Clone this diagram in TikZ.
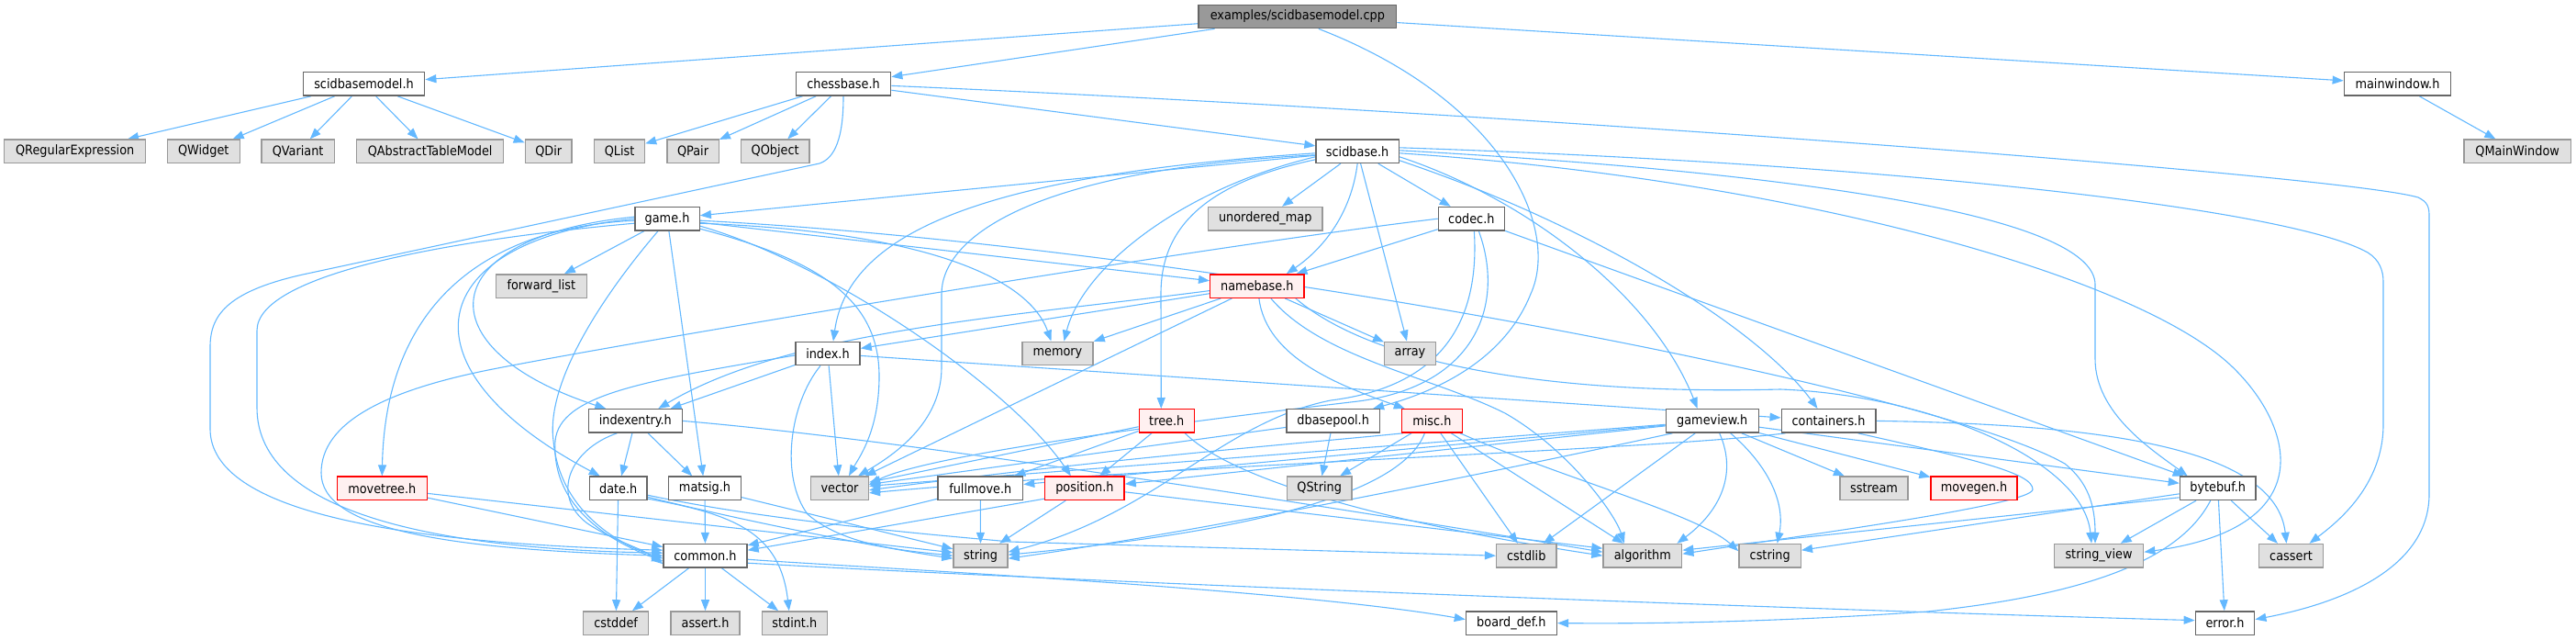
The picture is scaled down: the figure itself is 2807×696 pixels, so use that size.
\documentclass[tikz,border=0pt]{standalone}
\usepackage{fontspec}
\setmainfont{DejaVu Sans Condensed}
\usetikzlibrary{arrows.meta,calc,backgrounds}
\definecolor{edgec}{HTML}{63B8FF}
\definecolor{wb}{HTML}{666666}
\definecolor{gb}{HTML}{999999}
\definecolor{gf}{HTML}{E0E0E0}
\definecolor{rf}{HTML}{FFF0F0}
\definecolor{rb}{HTML}{FF0000}
\definecolor{rootf}{HTML}{999999}
\definecolor{rootb}{HTML}{666666}
\newcommand{\dnode}[6]{\node[#5, minimum width={#3-#2}] (#1) at ({(#2+#3)/2},#4) {#6};}
\begin{document}
\begin{tikzpicture}[x=1pt,y=-1pt,
 box/.style={rectangle, line width=1.4pt, minimum height=25.4pt, inner sep=0pt, font=\fontsize{14.3}{16}\selectfont, text=black},
 wbox/.style={box, draw=wb, fill=white},
 gbox/.style={box, draw=gb, fill=gf},
 rbox/.style={box, draw=rb, fill=rf},
 rootbox/.style={box, draw=rootb, fill=rootf},
 ed/.style={draw=edgec, line width=1.1pt, -{Triangle[length=12pt,width=9pt]}},
]
\useasboundingbox (0,0) rectangle (2807,696);
% row 0-1
\dnode{ex}{1306}{1521.7}{18}{rootbox}{examples/scidbasemodel.cpp}
\dnode{sbm}{330.3}{462.7}{91.4}{wbox}{scidbasemodel.h}
\dnode{cb}{867.3}{970.7}{91.4}{wbox}{chessbase.h}
\dnode{mw}{2554.3}{2670.7}{91.4}{wbox}{mainwindow.h}
% row 2
\dnode{qre}{4.7}{158.7}{164.8}{gbox}{QRegularExpression}
\dnode{qw}{182.3}{261.3}{164.8}{gbox}{QWidget}
\dnode{qv}{285}{364.3}{164.8}{gbox}{QVariant}
\dnode{qat}{388.6}{548.7}{164.8}{gbox}{QAbstractTableModel}
\dnode{qd}{572.4}{623}{164.8}{gbox}{QDir}
\dnode{ql}{647.6}{702.5}{164.8}{gbox}{QList}
\dnode{qp}{727}{783.2}{164.8}{gbox}{QPair}
\dnode{qo}{807.3}{882}{164.8}{gbox}{QObject}
\dnode{sb}{1434}{1524.3}{164.8}{wbox}{scidbase.h}
\dnode{qmw}{2685}{2801.3}{164.8}{gbox}{QMainWindow}
% row 3
\dnode{game}{691.9}{762.2}{238.2}{wbox}{game.h}
\dnode{um}{1316.7}{1440.8}{238.2}{gbox}{unordered\_map}
\dnode{codec}{1567.4}{1639.3}{238.2}{wbox}{codec.h}
% row 4
\dnode{fl}{540.4}{639.3}{311.6}{gbox}{forward\_list}
\dnode{nb}{1318.7}{1421.1}{311.6}{rbox}{namebase.h}
% row 5
\dnode{idx}{866.8}{937.1}{385}{wbox}{index.h}
\dnode{mem}{1113.8}{1191.1}{385}{gbox}{memory}
\dnode{arr}{1508.7}{1564.2}{385}{gbox}{array}
% row 6
\dnode{ie}{641.4}{743.2}{458.4}{wbox}{indexentry.h}
\dnode{tree}{1241.2}{1301.3}{458.4}{rbox}{tree.h}
\dnode{dbp}{1402}{1503.4}{458.4}{wbox}{dbasepool.h}
\dnode{misc}{1527.5}{1593.3}{458.4}{rbox}{misc.h}
\dnode{gv}{1815.2}{1916.2}{458.4}{wbox}{gameview.h}
\dnode{cont}{1941.2}{2043.8}{458.4}{wbox}{containers.h}
% row 7
\dnode{mt}{367.3}{465.3}{531.8}{rbox}{movetree.h}
\dnode{date}{642.5}{705}{531.8}{wbox}{date.h}
\dnode{ms}{728.6}{807.5}{531.8}{wbox}{matsig.h}
\dnode{vec}{883.6}{946.4}{531.8}{gbox}{vector}
\dnode{fm}{1022}{1114.6}{531.8}{wbox}{fullmove.h}
\dnode{pos}{1138.7}{1225.1}{531.8}{rbox}{position.h}
\dnode{qs}{1402.3}{1473.1}{531.8}{gbox}{QString}
\dnode{ss}{2005}{2079}{531.8}{gbox}{sstream}
\dnode{mg}{2104}{2198}{531.8}{rbox}{movegen.h}
\dnode{bb}{2375.4}{2458}{531.8}{wbox}{bytebuf.h}
% row 8
\dnode{com}{723}{814}{605.2}{wbox}{common.h}
\dnode{str}{1039}{1098}{605.2}{gbox}{string}
\dnode{cstdlib}{1630.6}{1696}{605.2}{gbox}{cstdlib}
\dnode{alg}{1747}{1832.7}{605.2}{gbox}{algorithm}
\dnode{cstr}{1895}{1962.3}{605.2}{gbox}{cstring}
\dnode{sv}{2238.3}{2335.7}{605.2}{gbox}{string\_view}
\dnode{cas}{2461.7}{2531.3}{605.2}{gbox}{cassert}
% row 9
\dnode{cstddef}{635.7}{706.7}{678.6}{gbox}{cstddef}
\dnode{ah}{731}{806}{678.6}{gbox}{assert.h}
\dnode{si}{830.3}{901.3}{678.6}{gbox}{stdint.h}
\dnode{bd}{1597.4}{1696.4}{678.6}{wbox}{board\_def.h}
\dnode{err}{2392.3}{2456.7}{678.6}{wbox}{error.h}

\begin{scope}[on background layer]
% straight edges
\draw[ed] (ex) -- (sbm);
\draw[ed] (ex) -- (cb);
\draw[ed] (ex) -- (mw);
\foreach \t in {qre,qw,qv,qat,qd} \draw[ed] (sbm) -- (\t);
\foreach \t in {ql,qp,qo,sb} \draw[ed] (cb) -- (\t);
\draw[ed] (mw) -- (qmw);
\foreach \t in {um,codec,arr,game} \draw[ed] (sb) -- (\t);
\draw[ed] (game) -- (fl);
\draw[ed] (game) -- (nb);
\draw[ed] (game) -- (ms);
\draw[ed] (codec) -- (nb);
\draw[ed] (codec) -- (bb);
\foreach \t in {idx,mem,arr,vec} \draw[ed] (nb) -- (\t);
\foreach \t in {ie,vec,cont} \draw[ed] (idx) -- (\t);
\draw[ed] (ie) -- (date);
\draw[ed] (ie) -- (ms);
\foreach \t in {vec,fm,pos} \draw[ed] (tree) -- (\t);
\draw[ed] (dbp) -- (qs);
\draw[ed] (dbp) -- (vec);
\foreach \t in {qs,cstdlib,alg} \draw[ed] (misc) -- (\t);
\foreach \t in {ss,mg,bb,cstdlib,vec,fm,pos} \draw[ed] (gv) -- (\t);
\draw[ed] (ms) -- (com);
\draw[ed] (ms) -- (str);
\draw[ed] (date) -- (cstddef);
\draw[ed] (fm) -- (str);
\draw[ed] (fm) -- (com);
\draw[ed] (pos) -- (str);
\draw[ed] ($(pos.south west)+(0,-2)$) -- ($(com.east)+(0,-6)$);
\draw[ed] ($(pos.east)+(0,4)$) -- ($(alg.west)+(0,-8)$);
\foreach \t in {cstddef,ah,si} \draw[ed] (com) -- (\t);
\foreach \t in {sv,cas,err} \draw[ed] (bb) -- (\t);
\draw[ed] ($(bb.west)+(0,6)$) -- ($(cstr.east)+(0,-6)$);
\draw[ed] ($(bb.west)+(0,10)$) -- ($(alg.east)+(0,-6)$);
\draw[ed] (mt) -- (com);
\draw[ed] (mt) -- (str);
% curved edges
\draw[ed] ($(ex.south)+(23,0)$) .. controls (1640,110) and (1700,250) .. (1668,320) .. controls (1640,390) and (1570,425) .. ($(dbp.north east)+(-8,0)$);
\draw[ed] (cb.south) .. controls (919,150) and (910,172) .. (893,178) -- (330,299) .. controls (245,318) and (229,345) .. (229,378) -- (229,467) .. controls (229,545) and (380,590) .. ($(com.west)+(0,-6)$);
\draw[ed] ($(cb.east)+(0,2)$) .. controls (1600,120) and (2550,190) .. (2635,215) .. controls (2645,220) and (2647,225) .. (2647,235) -- (2647,538) .. controls (2647,615) and (2560,655) .. ($(err.east)+(0,-4)$);
\draw[ed] (sb.south) .. controls (1472,235) and (1440,272) .. ($(nb.north east)+(-20,0)$);
\draw[ed] ($(sb.west)+(0,2)$) .. controls (1080,190) and (925,250) .. ($(idx.north)+(6,0)$);
\draw[ed] ($(sb.west)+(0,6)$) .. controls (1290,205) and (1180,290) .. ($(mem.north)+(7,0)$);
\draw[ed] ($(sb.west)+(0,4)$) .. controls (1120,185) and (1026,260) .. (1026,320) -- (1026,400) .. controls (1026,460) and (975,495) .. ($(vec.north)+(20,0)$);
\draw[ed] ($(sb.west)+(0,9)$) .. controls (1310,200) and (1265,250) .. (1265,320) -- ($(tree.north)+(-6,0)$);
\draw[ed] ($(sb.east)+(0,6)$) .. controls (1660,215) and (1800,320) .. ($(gv.north)+(-16,0)$);
\draw[ed] ($(sb.east)+(0,10)$) .. controls (1720,240) and (1910,350) .. ($(cont.north)+(-12,0)$);
\draw[ed] ($(sb.east)+(0,-4)$) .. controls (2100,180) and (2500,230) .. (2580,275) .. controls (2593,283) and (2597,295) .. (2597,307) -- (2597,462) .. controls (2597,530) and (2545,570) .. ($(cas.north)+(20,0)$);
\draw[ed] ($(sb.east)+(0,-1)$) .. controls (2000,190) and (2283,240) .. (2283,310) -- (2283,391) .. controls (2283,450) and (2345,490) .. ($(bb.north)+(-33,0)$);
\draw[ed] ($(sb.east)+(0,2)$) .. controls (1950,195) and (2330,300) .. (2433,400) .. controls (2500,465) and (2530,575) .. ($(sv.east)+(0,-4)$);
% game.h
\draw[ed] ($(game.east)+(0,5)$) .. controls (1000,252) and (1120,300) .. ($(mem.north)+(-7,0)$);
\draw[ed] ($(game.east)+(0,8)$) .. controls (900,285) and (1100,420) .. ($(pos.north)+(-15,0)$);
\draw[ed] ($(game.east)+(0,11)$) .. controls (900,285) and (958,330) .. (958,410) .. controls (958,470) and (935,500) .. ($(vec.north)+(10,0)$);
\draw[ed] ($(game.east)+(0,2)$) .. controls (1300,268) and (2100,420) .. (2250,505) .. controls (2275,525) and (2283,550) .. ($(sv.north)+(-4,0)$);
\draw[ed] ($(game.west)+(0,5)$) .. controls (480,262) and (280,300) .. (280,360) -- (280,444) .. controls (280,560) and (480,598) .. ($(com.west)+(0,-3)$);
\draw[ed] ($(game.west)+(0,2)$) .. controls (530,248) and (420,330) .. (mt.north);
\draw[ed] ($(game.west)+(0,-2)$) .. controls (470,258) and (460,380) .. ($(ie.north)+(-32,0)$);
\draw[ed] (game.west) .. controls (460,262) and (430,400) .. ($(date.north)+(-20,0)$);
\draw[ed] ($(game.south)+(-10,0)$) .. controls (650,330) and (595,420) .. (603,480) .. controls (610,560) and (680,595) .. ($(com.west)+(0,3)$);
% codec.h
\draw[ed] (codec.west) .. controls (1300,270) and (700,370) .. (537,402) .. controls (420,425) and (350,460) .. (350,515) .. controls (350,575) and (480,598) .. (com.west);
\draw[ed] ($(codec.south)+(3,0)$) .. controls (1612,340) and (1580,420) .. (1450,436) .. controls (1330,460) and (1260,560) .. ($(str.east)+(0,-4)$);
\draw[ed] ($(codec.south)+(8,0)$) .. controls (1640,330) and (1610,420) .. (1480,437) .. controls (1200,470) and (1000,500) .. ($(vec.east)+(0,-4)$);
% namebase.h
\draw[ed] ($(nb.west)+(0,5)$) .. controls (1100,345) and (860,360) .. ($(ie.north)+(25,0)$);
\draw[ed] ($(nb.south)+(2,0)$) .. controls (1380,390) and (1460,420) .. ($(misc.north west)+(4,0)$);
\draw[ed] ($(nb.south)+(15,0)$) .. controls (1440,390) and (1560,410) .. (1640,450) .. controls (1710,490) and (1760,560) .. ($(alg.north)+(-20,0)$);
\draw[ed] ($(nb.south east)+(-10,0)$) .. controls (1500,400) and (1700,430) .. (1940,424) .. controls (2100,430) and (2270,500) .. ($(sv.north)+(-8,0)$);
% index.h
\draw[ed] ($(idx.west)+(0,2)$) .. controls (700,415) and (610,430) .. (605,480) .. controls (600,560) and (680,595) .. ($(com.west)+(0,6)$);
\draw[ed] ($(idx.south)+(-8,0)$) .. controls (860,440) and (850,520) .. (880,560) .. controls (920,595) and (990,600) .. (str.west);
% indexentry.h
\draw[ed] ($(ie.south)+(-20,0)$) .. controls (620,490) and (600,540) .. (640,570) .. controls (670,590) and (700,597) .. ($(com.west)+(0,9)$);
\draw[ed] (ie.east) .. controls (1000,480) and (1500,560) .. ($(alg.west)+(0,-4)$);
% tree.h
\draw[ed] ($(tree.south)+(20,0)$) .. controls (1330,510) and (1450,560) .. ($(alg.west)+(0,0)$);
% misc.h
\draw[ed] ($(misc.south west)+(2,0)$) .. controls (1450,480) and (1200,500) .. ($(vec.east)+(0,2)$);
\draw[ed] ($(misc.south)+(-8,0)$) .. controls (1530,530) and (1400,575) .. ($(str.east)+(0,-1)$);
\draw[ed] ($(misc.south east)+(-3,0)$) .. controls (1700,520) and (1850,560) .. ($(cstr.west)+(0,-5)$);
% gameview.h
\draw[ed] ($(gv.south)+(20,0)$) .. controls (1930,510) and (1945,550) .. ($(cstr.north)+(8,0)$);
\draw[ed] ($(gv.south)+(8,0)$) .. controls (1895,520) and (1870,560) .. ($(alg.north east)+(-6,0)$);
\draw[ed] ($(gv.south west)+(8,0)$) .. controls (1600,520) and (1300,580) .. ($(str.east)+(0,3)$);
% containers.h
\draw[ed] (cont.east) .. controls (2300,462) and (2480,490) .. ($(cas.north)+(-5,0)$);
\draw[ed] ($(cont.south east)+(-20,0)$) .. controls (2150,500) and (2215,515) .. (2215,533) .. controls (2215,550) and (1950,585) .. ($(alg.east)+(0,-2)$);
\draw[ed] ($(cont.south west)+(5,0)$) .. controls (1800,490) and (1300,505) .. ($(vec.east)+(0,5)$);
% date.h
\draw[ed] ($(date.south east)+(0,-2)$) .. controls (800,560) and (850,580) .. ($(si.north)+(-6,0)$);
\draw[ed] ($(date.south east)+(0,-4)$) .. controls (800,565) and (950,595) .. ($(str.west)+(0,3)$);
\draw[ed] ($(date.south east)+(0,-6)$) .. controls (850,570) and (1050,585) .. (1100,590) -- (cstdlib.west);
% common.h
\draw[ed] ($(com.east)+(0,4)$) .. controls (900,616) and (1400,640) .. ($(bd.west)+(0,-4)$);
\draw[ed] ($(com.east)+(0,8)$) .. controls (1200,635) and (2000,665) .. ($(err.west)+(0,-3)$);
% bytebuf.h
\draw[ed] ($(bb.south)+(-8,0)$) .. controls (2380,600) and (2300,645) .. (2100,666) .. controls (1900,680) and (1750,679) .. (bd.east);
\end{scope}
\end{tikzpicture}
\end{document}
